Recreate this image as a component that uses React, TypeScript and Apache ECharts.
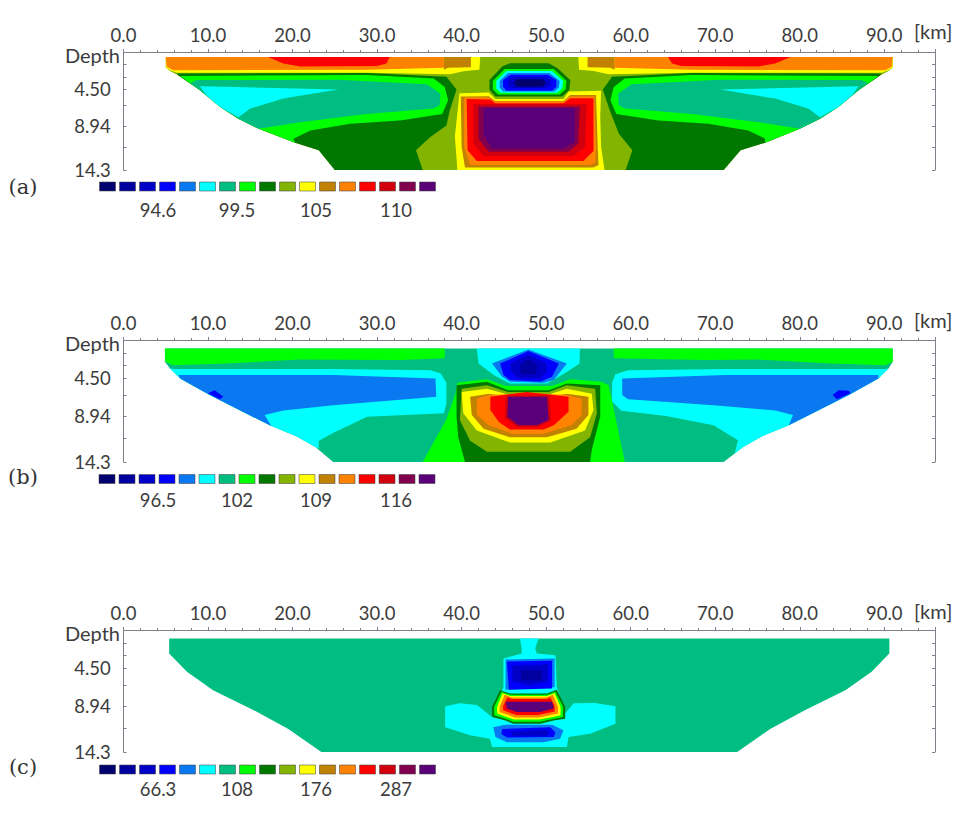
import React, { useEffect, useRef } from "react";
import * as echarts from "echarts";

type Layer = [number, number[][]];

// contour band colours, low to high
const bandColors = ["#00006e", "#0000a0", "#0000c8", "#0000ff", "#0a78f0", "#00ffff", "#00be82", "#00ff00", "#007800", "#82b400", "#ffff00", "#c08200", "#ff8200", "#ff0000", "#d2000f", "#820050", "#5a0078"];

const xTickLabels = [0, 10, 20, 30, 40, 50, 60, 70, 80, 90];
const depthLabelValues = [0.4, 4.5, 8.94, 14.3];
const depthLabels = ["{d|Depth}", "4.50", "8.94", "14.3"];
const depthTicks = [0, 1.5, 3, 4.5, 6.5, 8.94, 11.5, 14.3];

const legendA = ["94.6", "99.5", "105", "110"];
const legendB = ["96.5", "102", "109", "116"];
const legendC = ["66.3", "108", "176", "287"];

// [band, polygon of [km, depth]] painted in order
const panelA: Layer[] = [
  [9, [[5, .6], [5, 1.9], [5.5, 2.3], [6.5, 2.85], [9.05, 4.65], [11.4, 6.65], [13.6, 8.1], [16, 9.3], [20.3, 11], [23.1, 11.9], [25, 14.3], [71, 14.3], [73, 11.9], [75.9, 11], [80, 9.3], [82.4, 8.1], [84.6, 6.65], [86.95, 4.65], [89.5, 2.85], [90.5, 2.3], [91, 1.9], [91, .6]]],
  [10, [[5, .6], [42.2, .6], [42.1, 2.15], [40.4, 2.3], [38.6, 2.7], [28.8, 2.5], [6.3, 2.5], [5.5, 2.2], [5, 1.9]]],
  [10, [[91, .6], [53.8, .6], [53.9, 2.15], [55.6, 2.3], [57.4, 2.7], [67.2, 2.5], [89.7, 2.5], [90.5, 2.2], [91, 1.9]]],
  [12, [[5, .6], [37.9, .6], [37.9, 1.9], [28.8, 2.15], [5.9, 2.2], [5.1, 1.8]]],
  [12, [[91, .6], [58.1, .6], [58.1, 1.9], [67.2, 2.15], [90.1, 2.2], [90.9, 1.8]]],
  [11, [[37.9, .6], [41.1, .6], [41.1, 1.85], [38.4, 1.9], [37.9, 2.15]]],
  [11, [[58.1, .6], [54.9, .6], [54.9, 1.85], [57.6, 1.9], [58.1, 2.15]]],
  [13, [[17.1, .6], [31.5, .6], [31.1, 1.4], [30, 1.7], [20.9, 1.75], [18.9, 1.4]]],
  [13, [[78.9, .6], [64.4, .6], [64.9, 1.4], [66, 1.7], [75.1, 1.75], [77.1, 1.4]]],
  [8, [[6.3, 2.6], [28.8, 2.55], [38.2, 3], [39.4, 4.55], [38.6, 7.05], [38.2, 8.9], [36.3, 10.3], [34.6, 11.9], [35.4, 14.3], [25, 14.3], [23.1, 11.9], [20.3, 11], [16, 9.3], [13.6, 8.1], [11.4, 6.65], [9.05, 4.65], [6.5, 2.85]]],
  [8, [[89.7, 2.6], [67.2, 2.55], [57.8, 3], [56.7, 4.55], [57.5, 7], [58.6, 9.9], [60.2, 11.9], [59.4, 14.3], [71, 14.3], [73, 11.9], [75.9, 11], [80, 9.3], [82.4, 8.1], [84.6, 6.65], [86.95, 4.65], [89.5, 2.85]]],
  [7, [[6.7, 2.9], [28.8, 2.8], [36.7, 3.2], [38, 4.25], [38.4, 5.85], [37.7, 7.5], [32.7, 8.3], [26.8, 8.7], [22.1, 9.5], [20.1, 10.5], [20.3, 11], [16, 9.3], [13.6, 8.1], [11.4, 6.65], [9.05, 4.65]]],
  [7, [[89.3, 2.9], [67.2, 2.8], [59.3, 3.2], [58, 4.25], [57.6, 5.85], [58.3, 7.5], [63.3, 8.3], [69.2, 8.7], [73.9, 9.5], [75.9, 10.5], [75.9, 11], [80, 9.3], [82.4, 8.1], [84.6, 6.65], [86.95, 4.65]]],
  [6, [[8.7, 3.4], [25.4, 3.35], [35.9, 3.9], [37.5, 5.05], [37.4, 6.45], [36.7, 6.85], [28.8, 7.5], [20.9, 8.5], [16, 9.3], [13.6, 8.1], [11.4, 6.65], [9.05, 4.65], [7.9, 3.75]]],
  [6, [[87.3, 3.4], [70.6, 3.35], [60.1, 3.9], [58.5, 5.05], [58.6, 6.45], [59.3, 6.85], [67.2, 7.5], [75.1, 8.5], [80, 9.3], [82.4, 8.1], [84.6, 6.65], [86.95, 4.65], [88.1, 3.75]]],
  [5, [[9.05, 4.15], [25.4, 4.55], [18.9, 5.65], [15, 6.85], [13.6, 7.9], [11.4, 6.65], [9.8, 5.25]]],
  [5, [[86.95, 4.15], [70.6, 4.55], [77.1, 5.65], [81, 6.85], [82.4, 7.9], [84.6, 6.65], [86.2, 5.25]]],
  [10, [[39.75, 5], [43.2, 4.9], [44, 5.7], [52.05, 5.7], [52.65, 4.8], [56.5, 4.7], [56.4, 7.8], [56.5, 11.5], [56.9, 14.3], [39.5, 14.3], [39.2, 10.25]]],
  [11, [[39.9, 5.4], [43.2, 5.35], [44, 5.95], [52.05, 5.95], [52.85, 5.2], [55.9, 5.2], [56.1, 11.5], [56.2, 13.7], [55.6, 14], [40.4, 14], [40, 11.5]]],
  [12, [[40.3, 5.5], [43.2, 5.5], [44, 6], [52.05, 6], [52.85, 5.4], [55.7, 5.4], [55.9, 11.5], [55.8, 13.4], [55.2, 13.7], [41, 13.7], [40.3, 11.5]]],
  [13, [[40.6, 5.7], [43.4, 5.75], [44, 6.2], [52.05, 6.2], [52.85, 5.6], [55.6, 5.6], [55.6, 12], [54.4, 13.2], [41.8, 13.2], [40.7, 11.9]]],
  [14, [[41.4, 6.3], [54.8, 6.3], [54.6, 11.5], [53.2, 12.6], [42.6, 12.6], [41.4, 11.1]]],
  [15, [[42, 6.6], [54, 6.6], [53.8, 11.1], [52.65, 12.1], [43.2, 12.1], [42, 10.5]]],
  [16, [[42.6, 6.8], [53.4, 6.8], [53.4, 10.9], [52.05, 11.7], [43.6, 11.7], [42.6, 10.05]]],
  [8, [[43.3, 3.4], [44.8, 1.75], [45.7, 1.35], [50.3, 1.35], [51.3, 1.95], [52.85, 3.4], [52.75, 4.6], [51.9, 5.4], [44, 5.4], [43.3, 4.6]]],
  [7, [[43.7, 3.5], [45.1, 2.05], [50.9, 2.05], [52.4, 3.5], [52.3, 4.5], [51.6, 5.15], [44.3, 5.15], [43.7, 4.5]]],
  [5, [[44.1, 3.5], [45.3, 2.3], [50.7, 2.3], [52, 3.5], [51.9, 4.4], [51.3, 4.95], [44.6, 4.95], [44.1, 4.4]]],
  [4, [[44.5, 3.5], [45.5, 2.55], [50.4, 2.55], [51.6, 3.5], [51.5, 4.3], [51, 4.8], [44.9, 4.8], [44.5, 4.3]]],
  [3, [[44.9, 3.4], [45.8, 2.75], [50.2, 2.75], [51.2, 3.4], [51.2, 4.2], [50.7, 4.7], [45.3, 4.7], [44.9, 4.2]]],
  [2, [[45.5, 3.3], [46.2, 3], [49.8, 3], [50.5, 3.3], [50.5, 4.1], [50, 4.4], [46, 4.4], [45.5, 4.1]]],
  [0, [[46.5, 3.3], [49.6, 3.3], [50, 3.7], [49.6, 4.2], [46.5, 4.2], [46.2, 3.7]]],
];

const panelB: Layer[] = [
  [6, [[4.9, 1], [4.9, 2.55], [5.5, 3.35], [6.7, 4.5], [10.2, 6.45], [17.3, 10], [20.5, 11.3], [22.7, 12.55], [24.8, 14.3], [71, 14.3], [73.3, 12.55], [75.5, 11.3], [78.7, 10], [85.8, 6.45], [89.3, 4.5], [90.5, 3.35], [91, 2.55], [91, 1]]],
  [7, [[4.9, 1], [38, 1], [38, 2.15], [32.7, 2.35], [20.9, 2.3], [12.2, 2.75], [5.9, 2.95], [4.95, 2.55]]],
  [7, [[91, 1], [58, 1], [58, 2.15], [69, 2.35], [75, 2.3], [83.8, 2.75], [90.1, 2.95], [91, 2.55]]],
  [5, [[5.9, 3.4], [24.8, 3.4], [36.3, 3.55], [37.5, 3.9], [38.2, 5], [38.2, 7.45], [37.9, 8.6], [28.8, 9], [24.8, 10.9], [23.1, 11.8], [23.1, 12.75], [22.7, 12.55], [20.5, 11.3], [17.3, 10], [10.2, 6.45], [6.7, 4.5], [5.5, 3.35]]],
  [5, [[90.1, 3.4], [71.2, 3.4], [59.7, 3.55], [58.2, 4], [57.8, 5], [57.8, 7.2], [58.9, 8.3], [64.2, 8.9], [69.8, 10], [72.7, 11.75], [72.3, 13.3], [73.3, 12.55], [75.5, 11.3], [78.7, 10], [85.8, 6.45], [89.3, 4.5], [90.5, 3.35]]],
  [4, [[6.5, 4.1], [24.8, 4.1], [36.9, 4.5], [37, 6.65], [24.8, 7.65], [18.9, 8.25], [16.7, 8.8], [17.5, 10.1], [17.3, 10], [10.2, 6.45], [6.7, 4.5]]],
  [4, [[89.3, 4.1], [71.2, 4.1], [59, 4.5], [59, 6.45], [59.7, 6.95], [69.8, 7.65], [77.1, 8.25], [79.2, 8.8], [78.7, 10], [85.8, 6.45], [89.3, 4.5]]],
  [3, [[10, 6.25], [10.8, 5.9], [11.8, 6.65], [11.4, 6.95]]],
  [3, [[83.9, 6.45], [84.6, 5.9], [85.8, 5.95], [86, 6.25], [84.4, 6.95]]],
  [7, [[39.5, 5], [43, 4.6], [45.2, 5.4], [50.7, 5.4], [52.85, 4.6], [56.5, 4.9], [57.4, 5.3], [59.3, 14.3], [35.4, 14.3], [38.2, 9.3], [39.3, 6.2]]],
  [5, [[41.8, 1], [54, 1], [53.95, 2.75], [52.45, 3.75], [50.1, 5.1], [45.7, 5.1], [43.8, 4.1], [42, 2.75]]],
  [4, [[47.9, 1.1], [52.45, 2.75], [50.9, 4.7], [49.7, 5], [45.7, 4.9], [44.8, 4.3], [43.6, 2.75]]],
  [3, [[47.9, 1.3], [51.5, 2.75], [50.7, 4.3], [49.3, 4.9], [45.7, 4.7], [44.95, 4.1], [44.55, 2.75]]],
  [2, [[47.9, 1.7], [50, 2.7], [50.1, 3.7], [49.3, 4.5], [46.7, 4.5], [45.8, 3.7], [45.8, 2.7]]],
  [1, [[47.9, 2.2], [49, 3], [48.8, 4], [47, 4], [46.9, 3]]],
  [8, [[39.4, 5.3], [43, 4.9], [45.5, 5.9], [50.3, 5.9], [52.45, 5.1], [56.4, 5.3], [56.4, 9], [55.4, 12.9], [55.2, 14.3], [40.4, 14.3], [39.6, 11.4], [39.4, 9]]],
  [9, [[40, 5.7], [43, 5.3], [45.5, 6.1], [50.3, 6.1], [52.45, 5.3], [55.8, 5.7], [56, 8.6], [55.2, 11.4], [52.85, 13.1], [43, 13.1], [41, 11.8], [39.8, 9.4]]],
  [10, [[40, 6.1], [43, 5.7], [45.5, 6.4], [50.3, 6.4], [52.45, 5.7], [55.4, 6.3], [55.6, 8.2], [54.6, 10.6], [50.5, 12], [45.7, 12], [41.8, 10.6], [40.2, 8.6]]],
  [11, [[41, 6.65], [43.2, 6.3], [45.5, 6.65], [50.3, 6.65], [52.45, 6.3], [55, 6.65], [55, 8.8], [53.6, 10.4], [50.1, 11.4], [45.7, 11.4], [42.6, 10.4], [41.2, 8.8]]],
  [12, [[41.8, 6.9], [43.2, 6.45], [47.9, 6.2], [52.45, 6.45], [54.2, 6.9], [54.2, 8.8], [53, 10], [49.7, 11], [46, 11], [43.2, 10], [41.8, 8.8]]],
  [13, [[43.4, 6.65], [47.7, 6.1], [52.65, 6.65], [52.65, 8.4], [50.9, 10], [49.7, 10.5], [45.7, 10.5], [44.4, 9.6], [43.4, 8.2]]],
  [14, [[45.2, 6.5], [50.4, 6.5], [50.6, 9.4], [49.1, 10.2], [46.5, 10.2], [45.1, 9.2]]],
  [16, [[45.5, 6.65], [50.1, 6.65], [50.3, 9.4], [48.9, 10], [46.7, 10], [45.4, 9]]],
];

const panelC: Layer[] = [
  [6, [[5.4, 1], [5.4, 2.75], [7.5, 4.9], [10.6, 7.05], [15.4, 9.4], [19.5, 11.6], [23.4, 14.3], [72.6, 14.3], [76.5, 11.6], [80.6, 9.4], [85.4, 7.05], [88.5, 4.9], [90.6, 2.75], [90.6, 1]]],
  [5, [[46.9, 1], [49.1, 1], [48.7, 2.15], [48.9, 2.75], [51.1, 2.95], [51.25, 6.65], [52.25, 9.8], [53.25, 8.6], [55.8, 8.55], [58.2, 8.95], [58.2, 11], [55.2, 12.15], [52.65, 12.55], [52.45, 13.7], [43.6, 13.7], [43.35, 12.75], [41, 12.35], [38.05, 11.4], [38.05, 8.95], [39.8, 8.6], [41.8, 8.8], [43.6, 10.2], [44.95, 6.65], [44.95, 3.35], [47.1, 2.75], [47.1, 2.15]]],
  [4, [[45.2, 3.45], [51, 3.35], [51, 6.7], [45.2, 7]]],
  [3, [[45.35, 3.7], [50.7, 3.6], [50.7, 6.85], [45.6, 7]]],
  [2, [[46, 4.2], [50.2, 4], [50.2, 6], [48, 6.5], [46, 6]]],
  [1, [[47, 4.7], [49.5, 4.7], [49.5, 5.9], [47, 5.9]]],
  [8, [[43.6, 9], [44.55, 7.05], [45.75, 7.45], [50.1, 7.45], [51.25, 7], [52.25, 9], [52.25, 10.4], [50.9, 10.6], [49.3, 11], [46.1, 11], [45.2, 10.6], [43.6, 10.2]]],
  [7, [[43.85, 9], [44.7, 7.25], [45.75, 7.6], [50.1, 7.6], [51.1, 7.25], [52, 9], [52, 10.2], [50.9, 10.4], [49.3, 10.75], [46.1, 10.75], [45.2, 10.4], [43.85, 10]]],
  [10, [[44.2, 9], [44.85, 7.4], [45.75, 7.75], [50.1, 7.75], [51, 7.4], [51.7, 9], [51.7, 10], [50.8, 10.2], [49.2, 10.5], [46.2, 10.5], [45.3, 10.2], [44.2, 9.8]]],
  [12, [[44.5, 9], [45.1, 7.6], [45.9, 7.9], [50, 7.9], [50.8, 7.6], [51.4, 9], [51.4, 9.8], [50.6, 9.95], [49.1, 10.25], [46.3, 10.25], [45.5, 9.95], [44.5, 9.6]]],
  [13, [[44.9, 8.9], [45.4, 7.9], [46, 8.1], [50, 8.1], [50.5, 7.9], [51, 8.9], [51, 9.55], [50.3, 9.7], [49, 9.95], [46.5, 9.95], [45.7, 9.7], [44.9, 9.4]]],
  [16, [[45.2, 8.4], [50.7, 8.4], [50.9, 9.2], [49.3, 9.6], [46.5, 9.6], [45.35, 9.2]]],
  [4, [[43.75, 11.4], [45.15, 11.1], [50.7, 11.1], [52.05, 11.75], [51.65, 12.75], [49.7, 13.15], [45.35, 13.15], [44, 12.55]]],
  [3, [[44.8, 11.6], [50.5, 11.4], [51.1, 12], [50.9, 12.55], [45.35, 12.6], [44.7, 12.2]]],
  [2, [[45.8, 11.9], [50, 11.7], [50.4, 12.1], [50, 12.4], [46, 12.4]]],
];

const FONT = "Lato";
const INK = "#3c3c3c";
const AXIS = "#80808a";
const NUM_SIZE = 18.5;

const panels = [
  { layers: panelA, top: 52, height: 118, tag: "(a)", tagY: 187, legend: legendA, swatchY: 182, legendY: 210, kmY: 31, x0: 99.5 },
  { layers: panelB, top: 340, height: 122, tag: "(b)", tagY: 477, legend: legendB, swatchY: 474.5, legendY: 500, kmY: 320, x0: 99 },
  { layers: panelC, top: 630, height: 122, tag: "(c)", tagY: 767, legend: legendC, swatchY: 765, legendY: 789, kmY: 611, x0: 99.5 },
];
const legendLabelX = [158, 237, 316, 396];

function buildOption() {
  const grid: any[] = [];
  const xAxis: any[] = [];
  const yAxis: any[] = [];
  const series: any[] = [];
  const graphic: any[] = [];

  panels.forEach((p, i) => {
    grid.push({ left: 123.5, top: p.top, width: 811.5, height: p.height, show: false });
    xAxis.push({
      gridIndex: i, type: "value", position: "top", min: 0, max: 96, interval: 10,
      axisLine: { show: true, lineStyle: { color: AXIS, width: 1 } },
      axisTick: { show: true, length: 3, lineStyle: { color: AXIS } },
      minorTick: { show: true, splitNumber: 5, length: 2, lineStyle: { color: AXIS } },
      splitLine: { show: false },
      axisLabel: { customValues: xTickLabels, formatter: (v: number) => v.toFixed(1), fontFamily: FONT, fontSize: NUM_SIZE, color: INK, margin: 8 },
    });
    yAxis.push({
      gridIndex: i, type: "value", inverse: true, min: 0, max: 14.3, position: "left",
      axisLine: { show: true, lineStyle: { color: AXIS, width: 1 } },
      axisTick: { show: true, length: 3, inside: true, customValues: depthTicks, lineStyle: { color: AXIS } },
      splitLine: { show: false },
      axisLabel: {
        customValues: depthLabelValues,
        formatter: (v: number) => depthLabels[depthLabelValues.indexOf(v)] ?? "",
        align: "center", margin: 31, fontFamily: FONT, fontSize: NUM_SIZE, color: INK,
        rich: { d: { fontFamily: FONT, fontSize: 20, color: INK } },
      },
    });
    yAxis.push({
      gridIndex: i, type: "value", inverse: true, min: 0, max: 14.3, position: "right",
      axisLine: { show: true, lineStyle: { color: AXIS, width: 1 } },
      axisTick: { show: true, length: 3, inside: true, customValues: depthTicks, lineStyle: { color: AXIS } },
      splitLine: { show: false },
      axisLabel: { show: false },
    });
    const layers = p.layers;
    series.push({
      type: "custom", xAxisIndex: i, yAxisIndex: i * 2, silent: true, clip: true,
      data: layers.map((l) => [l[1][0][0], l[1][0][1]]),
      encode: { x: 0, y: 1 },
      renderItem: (params: any, api: any) => {
        const layer = layers[params.dataIndex];
        return {
          type: "polygon",
          shape: { points: layer[1].map((pt) => api.coord(pt)) },
          style: { fill: bandColors[layer[0]], stroke: null },
        };
      },
    });

    bandColors.forEach((c, k) => {
      graphic.push({
        type: "rect", shape: { x: p.x0 + k * 20, y: p.swatchY, width: 16, height: 9 },
        style: { fill: c, stroke: "rgba(70,70,70,0.55)", lineWidth: 1 }, silent: true,
      });
    });
    p.legend.forEach((t, k) => {
      graphic.push({
        type: "text", x: legendLabelX[k], y: p.legendY,
        style: { text: t, fontFamily: FONT, fontSize: NUM_SIZE, fill: INK, textAlign: "center", textVerticalAlign: "middle" }, silent: true,
      });
    });
    graphic.push({
      type: "text", x: 23, y: p.tagY,
      style: { text: p.tag, fontFamily: "DejaVu Serif", fontSize: 21, fill: "#333", textAlign: "center", textVerticalAlign: "middle" }, silent: true,
    });
    graphic.push({
      type: "text", x: 914, y: p.kmY,
      style: { text: "[km]", fontFamily: FONT, fontSize: 20, fill: INK, textAlign: "left", textVerticalAlign: "middle" }, silent: true,
    });
  });

  return { animation: false, backgroundColor: "#ffffff", grid, xAxis, yAxis, series, graphic };
}

export default function App() {
  const ref = useRef<HTMLDivElement | null>(null);
  useEffect(() => {
    if (!ref.current) return;
    const chart = echarts.init(ref.current, undefined, { renderer: "svg" });
    chart.setOption(buildOption() as any);
    return () => chart.dispose();
  }, []);
  return <div ref={ref} style={{ position: "absolute", left: 0, top: 0, width: 959, height: 831 }} />;
}
